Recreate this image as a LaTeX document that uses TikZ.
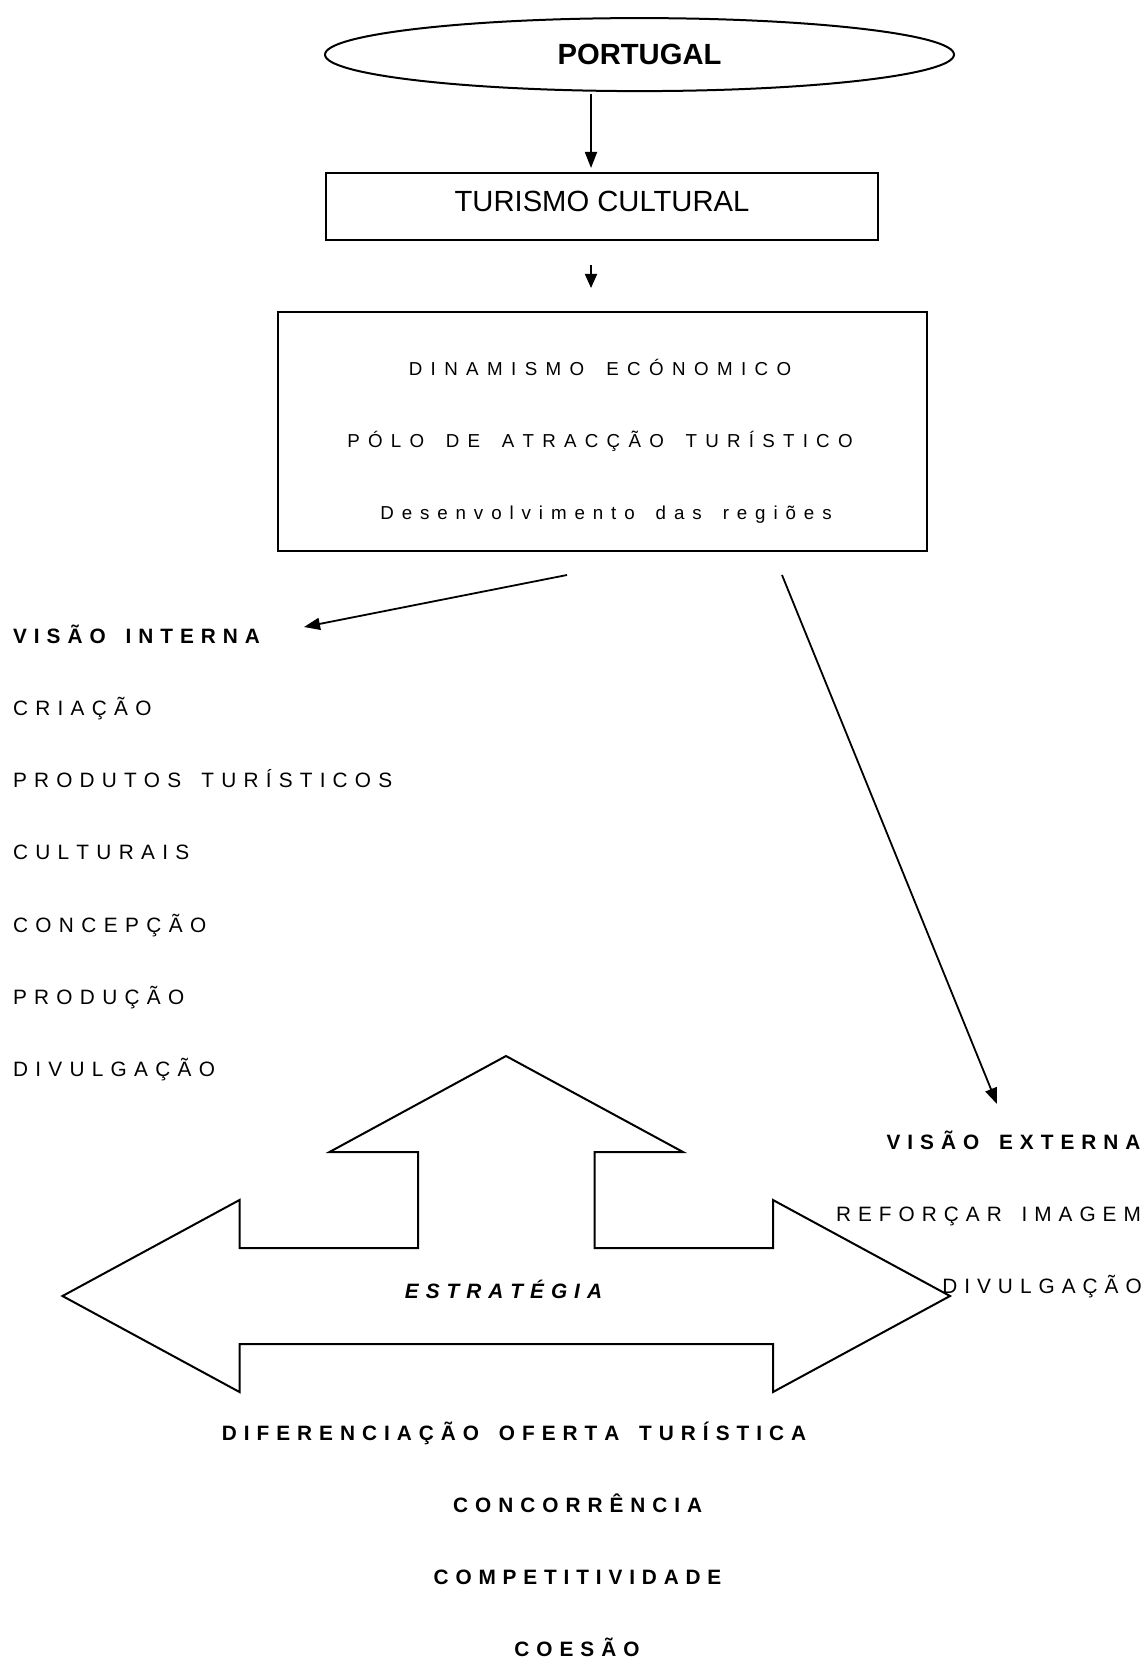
\documentclass[tikz,border=0pt]{standalone}
\usepackage{fontspec}
\setmainfont{Liberation Sans}
\usetikzlibrary{shapes.geometric,arrows.meta}
\newdimen\trkamt
\def\trkend{TRKEND}
\newcommand\trk[2]{\trkamt=#1\relax\trkfirst#2\trkend}
\def\trkfirst#1{#1\trkloop}
\def\trkloop#1{\ifx#1\trkend\else\kern\trkamt#1\expandafter\trkloop\fi}
\tikzset{
  every node/.style={inner sep=0pt, outer sep=0pt},
  sm/.style={font=\fontsize{20.8pt}{24pt}\selectfont},
  smb/.style={font=\fontsize{20.8pt}{24pt}\selectfont\bfseries},
  smbi/.style={font=\fontsize{20.8pt}{24pt}\selectfont\bfseries\itshape},
  bx/.style={font=\fontsize{18.75pt}{22pt}\selectfont},
  big/.style={font=\fontsize{29.2pt}{34pt}\selectfont},
  frame/.style={draw, line width=2pt},
  conn/.style={line width=1.8pt, -{Triangle[length=16pt,width=12pt]}},
}
\begin{document}
\begin{tikzpicture}[x=1pt,y=-1pt]
\useasboundingbox (0,0) rectangle (1147,1661);
% top ellipse
\node[frame, ellipse, minimum width=629pt, minimum height=73pt, text height=20.8pt, text depth=0pt, font=\fontsize{29.2pt}{34pt}\selectfont\bfseries] (portugal) at (639.5,54.6) {PORTUGAL};
% turismo box
\node[frame, rectangle, minimum width=552pt, minimum height=67pt, big, text height=21pt, text depth=10pt] (turismo) at (602,206.5) {TURISMO CULTURAL};
% econ box
\node[frame, rectangle, minimum width=649pt, minimum height=239pt] (econ) at (602.5,431.5) {};
\node[bx, anchor=base] (dinam) at (600,375) {\trk{8.4pt}{DINAMISMO~ECÓNOMICO}};
\node[bx, anchor=base] (polo) at (600,447) {\trk{8.25pt}{PÓLO~DE~ATRACÇÃO~TURÍSTICO}};
\node[bx, anchor=base] (desen) at (606,519) {\trk{7.9pt}{Desenvolvimento~das~regiões}};
% arrows top
\coordinate (a1s) at (591,94);
\coordinate (a1e) at (591,168);
\draw[conn] (a1s) -- (a1e);
\coordinate (a2s) at (591,265);
\coordinate (a2e) at (591,288);
\draw[conn, -{Triangle[length=14pt,width=12pt]}] (a2s) -- (a2e);
% left column
\node[smb, anchor=base west] (vint) at (13,643) {\trk{7pt}{VISÃO~INTERNA}};
\node[sm, anchor=base west] (criacao) at (13,715.3) {\trk{7.3pt}{CRIAÇÃO}};
\node[sm, anchor=base west] (produtos) at (13,787.6) {\trk{7.2pt}{PRODUTOS~TURÍSTICOS}};
\node[sm, anchor=base west] (culturais) at (13,859.9) {\trk{7.3pt}{CULTURAIS}};
\node[sm, anchor=base west] (concepcao) at (13,932.2) {\trk{7.4pt}{CONCEPÇÃO}};
\node[sm, anchor=base west] (producao) at (13,1004.5) {\trk{7.3pt}{PRODUÇÃO}};
\node[sm, anchor=base west] (divul1) at (13,1076.8) {\trk{7.3pt}{DIVULGAÇÃO}};
% right column
\node[smb, anchor=base] (vext) at (1013.5,1149) {\trk{7pt}{VISÃO~EXTERNA}};
\node[sm, anchor=base] (reforcar) at (988.5,1221) {\trk{7pt}{REFORÇAR~IMAGEM}};
\node[sm, anchor=base] (divul2) at (1042,1293) {\trk{7pt}{DIVULGAÇÃO}};
% diagonal arrows
\coordinate (b1s) at (567,575);
\coordinate (b1e) at (304,627);
\draw[conn] (b1s) -- (b1e);
\coordinate (b2s) at (782,575);
\coordinate (b2e) at (997,1104);
\draw[conn] (b2s) -- (b2e);
% big three-way arrow
\draw[line width=2pt, line join=miter] (506,1056) -- (683,1152) -- (594.5,1152) -- (594.5,1248) -- (773,1248) -- (773,1200) -- (950,1296) -- (773,1392) -- (773,1344) -- (239.5,1344) -- (239.5,1392) -- (62.5,1296) -- (239.5,1200) -- (239.5,1248) -- (418,1248) -- (418,1152) -- (329.5,1152) -- cycle;
\node[smbi, anchor=base] (estrat) at (503.5,1298) {\trk{7pt}{ESTRATÉGIA}};
% bottom texts
\node[smb, anchor=base] (difer) at (514,1440) {\trk{7pt}{DIFERENCIAÇÃO~OFERTA~TURÍSTICA}};
\node[smb, anchor=base] (concorr) at (577.7,1512) {\trk{7pt}{CONCORRÊNCIA}};
\node[smb, anchor=base] (compet) at (577.5,1584) {\trk{6.85pt}{COMPETITIVIDADE}};
\node[smb, anchor=base] (coesao) at (577,1656) {\trk{7pt}{COESÃO}};
\end{tikzpicture}
\end{document}
